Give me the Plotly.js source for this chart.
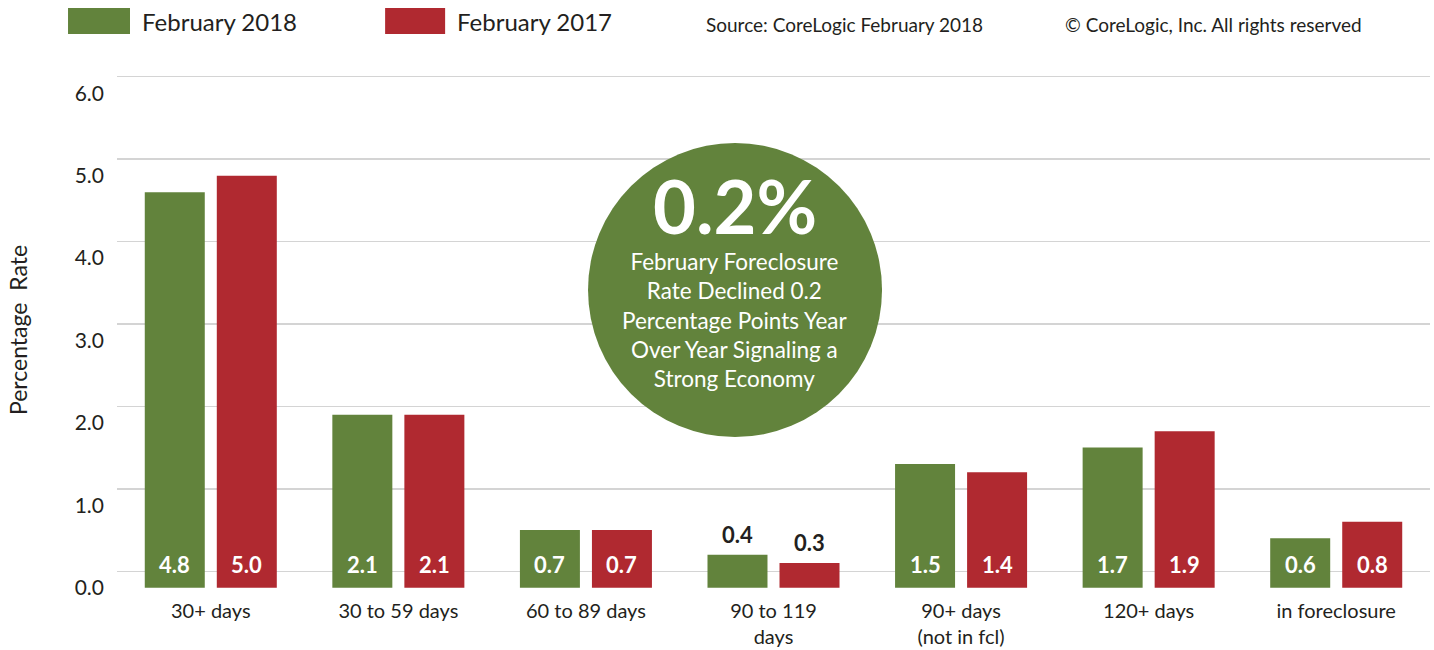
<!DOCTYPE html>
<html>
<head>
<meta charset="utf-8">
<script src="https://cdn.plot.ly/plotly-3.0.1.min.js"></script>
<style>html,body{margin:0;padding:0;background:#fff;}#chart{width:1434px;height:650px;}</style>
</head>
<body>
<div id="chart"></div>
<script>
const categories = ['30+ days', '30 to 59 days', '60 to 89 days', '90 to 119<br>days', '90+ days<br>(not in fcl)', '120+ days', 'in foreclosure'];
const feb2018 = [4.8, 2.1, 0.7, 0.4, 1.5, 1.7, 0.6];
const feb2017 = [5.0, 2.1, 0.7, 0.3, 1.4, 1.9, 0.8];
const seriesNames = ['February 2018', 'February 2017'];
const seriesColors = ['#62833c', '#b02930'];
const yTicks = [0, 1, 2, 3, 4, 5, 6];
const sourceText = 'Source: CoreLogic February 2018';
const copyrightText = '\u00a9 CoreLogic, Inc. All rights reserved';
const calloutHeadline = '0.2%';
const calloutLines = ['February Foreclosure', 'Rate Declined 0.2', 'Percentage Points Year', 'Over Year Signaling a', 'Strong Economy'];
const yTitle = 'Percentage\u00a0 Rate';

const FONT = "Lato, 'Noto Sans', sans-serif";
const TXT = '#231f20';
const series = [feb2018, feb2017];

const traces = series.map((vals, s) => ({
  type: 'bar',
  name: seriesNames[s],
  x: categories,
  y: vals,
  yaxis: 'y2',
  marker: {color: seriesColors[s]},
  hoverinfo: 'skip',
  showlegend: false
}));
// empty trace so that the grid axis is drawn
traces.unshift({type: 'scatter', mode: 'markers', x: [categories[0]], y: [null], yaxis: 'y', showlegend: false, hoverinfo: 'skip'});

const annotations = [];
series.forEach((vals, s) => {
  vals.forEach((v, i) => {
    const inside = v >= 0.5;
    annotations.push({
      x: categories[i], xref: 'x', xshift: s === 0 ? -36 : 36,
      y: inside ? 0 : v, yref: 'y2', yanchor: 'bottom', yshift: inside ? 8 : 5,
      text: '<b>' + v.toFixed(1) + '</b>', showarrow: false,
      font: {family: FONT, size: 22, color: inside ? '#ffffff' : TXT}
    });
  });
});

// legend (custom, as in the original)
const legendX = [[-0.0373, 0.0099], [0.2042, 0.2499]];
const shapes = [];
seriesNames.forEach((n, s) => {
  shapes.push({type: 'rect', xref: 'paper', yref: 'paper', x0: legendX[s][0], x1: legendX[s][1], y0: 1.069, y1: 1.119,
    fillcolor: seriesColors[s], line: {width: 0}});
  annotations.push({xref: 'paper', yref: 'paper', x: legendX[s][1] + 0.0075, y: 1.094, xanchor: 'left', yanchor: 'middle',
    text: n, showarrow: false, font: {family: FONT, size: 24, color: TXT}});
});
annotations.push({xref: 'paper', yref: 'paper', x: 0.4473, y: 1.088, xanchor: 'left', yanchor: 'middle',
  text: sourceText, showarrow: false, font: {family: FONT, size: 19, color: TXT}});
annotations.push({xref: 'paper', yref: 'paper', x: 0.7203, y: 1.088, xanchor: 'left', yanchor: 'middle',
  text: copyrightText, showarrow: false, font: {family: FONT, size: 19, color: TXT}});

// callout circle
shapes.push({type: 'circle', xref: 'paper', yref: 'paper', xsizemode: 'pixel', ysizemode: 'pixel',
  xanchor: 0.4707, yanchor: 0.577, x0: -147, x1: 147, y0: -147, y1: 147,
  fillcolor: '#62833c', line: {width: 0}, layer: 'above'});
annotations.push({xref: 'paper', yref: 'paper', x: 0.4707, y: 0.577, yshift: 84, xanchor: 'center', yanchor: 'middle',
  text: '<b>' + calloutHeadline + '</b>', borderpad: 0,
  showarrow: false, font: {family: FONT, size: 74, color: '#ffffff'}});
annotations.push({xref: 'paper', yref: 'paper', x: 0.4707, y: 0.577, yshift: -30, xanchor: 'center', yanchor: 'middle',
  text: calloutLines.join('<br>'), borderpad: 0,
  showarrow: false, font: {family: FONT, size: 22.5, color: '#ffffff'}});

// y title
annotations.push({xref: 'paper', yref: 'paper', x: 0, xshift: -99, y: 0.5, xanchor: 'center', yanchor: 'middle',
  text: yTitle, textangle: -90, showarrow: false, font: {family: FONT, size: 23, color: TXT}});

const layout = {
  width: 1434, height: 650,
  margin: {l: 117, r: 4, t: 70, b: 60},
  paper_bgcolor: '#ffffff', plot_bgcolor: '#ffffff',
  font: {family: FONT, color: TXT},
  barmode: 'group', bargap: 0.232, bargroupgap: 0.167,
  showlegend: false,
  xaxis: {type: 'category', range: [-0.5, 6.5], showgrid: false, zeroline: false, showline: false, ticks: '',
    ticklabelstandoff: 7, tickfont: {family: FONT, size: 20, color: TXT}, fixedrange: true},
  yaxis: {range: [-0.222, 6.081], tick0: 0, dtick: 1, showticklabels: false, showgrid: true,
    gridcolor: '#d4d4d4', gridwidth: 1.5, zeroline: false, showline: false, ticks: '', fixedrange: true},
  yaxis2: {overlaying: 'y', side: 'left', range: [-0.028, 6.283], tickvals: yTicks, tickformat: '.1f',
    showgrid: false, zeroline: false, showline: false, ticks: '', ticklabelstandoff: 12,
    tickfont: {family: FONT, size: 21, color: TXT}, fixedrange: true},
  shapes: shapes,
  annotations: annotations
};

Plotly.newPlot('chart', traces, layout, {displayModeBar: false, staticPlot: true});
</script>
</body>
</html>
